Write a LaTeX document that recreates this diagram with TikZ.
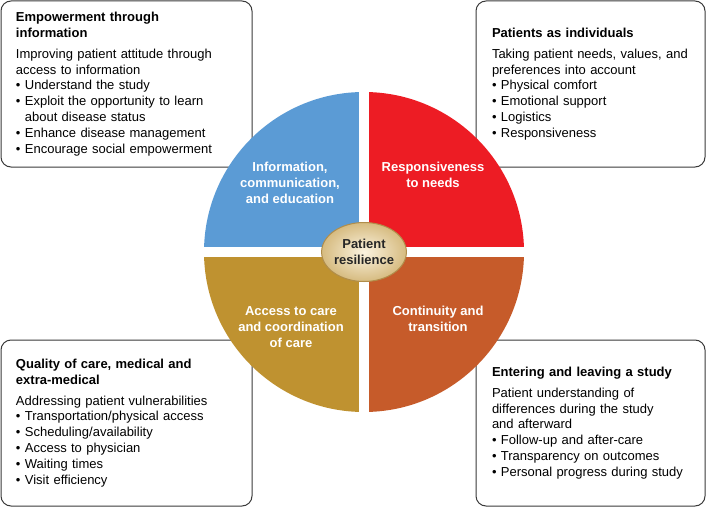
\documentclass[tikz,border=0pt]{standalone}
\usepackage{fontspec}
\setmainfont{Liberation Sans}
\usetikzlibrary{shapes.geometric,positioning}
\definecolor{infoblue}{HTML}{5B9BD5}
\definecolor{needred}{HTML}{ED1C24}
\definecolor{caregold}{HTML}{BF9230}
\definecolor{transorange}{HTML}{C65B2A}
\definecolor{hubcream}{HTML}{FBF3E0}
\definecolor{hubtan}{HTML}{D6BB80}
\definecolor{hubedge}{HTML}{B08D4A}
\definecolor{boxline}{HTML}{3A3A3A}
\newcommand{\bul}{\textbullet\ }
\newcommand{\bulgap}{\phantom{\textbullet\ }}

\begin{document}
\begin{tikzpicture}[x=1pt,y=1pt,
  panel/.style={draw=boxline,line width=1pt,rounded corners=10pt,fill=white,minimum height=166pt,align=left,font=\fontsize{13}{15.8}\selectfont},
  widepanel/.style={panel,inner xsep=15pt,text width=221pt},
  narrowpanel/.style={panel,inner xsep=16pt,text width=197pt},
  quarter/.style={text=white,align=center,font=\bfseries\fontsize{13}{16.2}\selectfont},
  hub/.style={ellipse,draw=hubedge,line width=1pt,inner color=hubcream,outer color=hubtan,minimum width=75pt,minimum height=59pt,inner sep=0pt,align=center,font=\bfseries\fontsize{13}{16}\selectfont,text=black!85}
]
\useasboundingbox (0,0) rectangle (706,507);

% the four panels
\node[widepanel] (empower) at (126.5,423) {{\bfseries Empowerment through}\\{\bfseries information}\\[5pt]
  Improving patient attitude through\\access to information\\
  \bul Understand the study\\\bul Exploit the opportunity to learn\\\bulgap about disease status\\
  \bul Enhance disease management\\\bul Encourage social empowerment};
\node[narrowpanel] (individ) at (590.5,423) {{\bfseries Patients as individuals}\\[5pt]
  Taking patient needs, values, and\\preferences into account\\
  \bul Physical comfort\\\bul Emotional support\\\bul Logistics\\\bul Responsiveness};
\node[widepanel] (quality) at (126.5,84) {{\bfseries Quality of care, medical and}\\{\bfseries extra-medical}\\[5pt]
  Addressing patient vulnerabilities\\
  \bul Transportation/physical access\\\bul Scheduling/availability\\\bul Access to physician\\
  \bul Waiting times\\\bul Visit efficiency};
\node[narrowpanel] (entering) at (590.5,84) {{\bfseries Entering and leaving a study}\\[5pt]
  Patient understanding of\\differences during the study\\and afterward\\
  \bul Follow-up and after-care\\\bul Transparency on outcomes\\\bul Personal progress during study};

% the wheel
\coordinate (hubc) at (364,255);
\fill[infoblue] (hubc) -- ++(180:160pt) arc[start angle=180,end angle=90,radius=160pt] -- cycle;
\fill[needred] (hubc) -- ++(90:160pt) arc[start angle=90,end angle=0,radius=160pt] -- cycle;
\fill[transorange] (hubc) -- ++(0:160pt) arc[start angle=0,end angle=-90,radius=160pt] -- cycle;
\fill[caregold] (hubc) -- ++(-90:160pt) arc[start angle=-90,end angle=-180,radius=160pt] -- cycle;
\draw[white,line width=10pt] ([xshift=-165pt]hubc) -- ([xshift=165pt]hubc);
\draw[white,line width=10pt] ([yshift=-165pt]hubc) -- ([yshift=165pt]hubc);

\node[quarter] (info) at (290,324) {Information,\\communication,\\and education};
\node[quarter] (needs) at (433,332) {Responsiveness\\to needs};
\node[quarter] (access) at (291,180) {Access to care\\and coordination\\of care};
\node[quarter] (cont) at (438,188) {Continuity and\\transition};
\node[hub] (hub) at (hubc) {Patient\\resilience};
\end{tikzpicture}
\end{document}
